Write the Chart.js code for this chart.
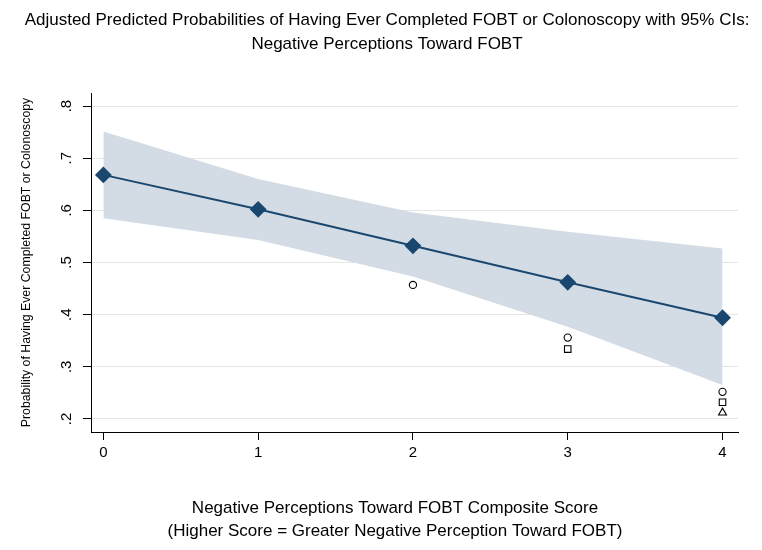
<!DOCTYPE html>
<html>
<head>
<meta charset="utf-8">
<script src="https://cdn.jsdelivr.net/npm/chart.js@4.4.1/dist/chart.umd.min.js"></script>
<style>
  html, body { margin: 0; padding: 0; background: #fff; }
  #wrap { width: 762px; height: 550px; }
</style>
</head>
<body>
<div id="wrap"><canvas id="chart" width="762" height="550"></canvas></div>
<script>
const scores = [0, 1, 2, 3, 4];
const predicted = [0.668, 0.602, 0.532, 0.462, 0.394];
const ciLower = [0.585, 0.543, 0.473, 0.377, 0.265];
const ciUpper = [0.751, 0.660, 0.596, 0.559, 0.527];
const circleVals = [null, null, 0.457, 0.356, 0.252];
const squareVals = [null, null, null, 0.334, 0.232];
const triangleVals = [null, null, null, null, 0.212];
const yTicks = [0.2, 0.3, 0.4, 0.5, 0.6, 0.7, 0.8];
const xTicks = [0, 1, 2, 3, 4];

const titleLines = [
  'Adjusted Predicted Probabilities of Having Ever Completed FOBT or Colonoscopy with 95% CIs:',
  'Negative Perceptions Toward FOBT'
];
const xTitleLines = [
  'Negative Perceptions Toward FOBT Composite Score',
  '(Higher Score = Greater Negative Perception Toward FOBT)'
];
const yTitle = 'Probability of Having Ever Completed FOBT or Colonoscopy';

const navy = '#1a476f';
const band = '#d3dce5';
const fontFamily = '"Liberation Sans", Arial, sans-serif';

function pts(vals) {
  return scores.map((x, i) => ({ x: x, y: vals[i] }));
}

function yLabel(v) {
  return v.toFixed(1).replace(/^0/, '');
}

// Stata style texts: rotated y tick labels, titles centred like the original
const stataText = {
  id: 'stataText',
  afterDraw(chart) {
    const ctx = chart.ctx;
    const y = chart.scales.y;
    ctx.save();
    ctx.fillStyle = '#000';
    ctx.textAlign = 'center';
    ctx.textBaseline = 'middle';

    ctx.font = '15px ' + fontFamily;
    yTicks.forEach(v => {
      ctx.save();
      ctx.translate(67, y.getPixelForValue(v));
      ctx.rotate(-Math.PI / 2);
      ctx.fillText(yLabel(v), 0, 0);
      ctx.restore();
    });

    ctx.font = '17px ' + fontFamily;
    ctx.fillText(titleLines[0], 387, 20);
    ctx.fillText(titleLines[1], 387, 44);

    ctx.fillText(xTitleLines[0], 395, 508);
    ctx.fillText(xTitleLines[1], 395, 531);
    ctx.restore();
  }
};

const markerBase = {
  showLine: false,
  pointBackgroundColor: '#fff',
  pointBorderColor: '#000',
  pointBorderWidth: 1.1,
  order: 1
};

new Chart(document.getElementById('chart'), {
  type: 'line',
  data: {
    datasets: [
      {
        label: 'Predicted',
        data: pts(predicted),
        borderColor: navy,
        borderWidth: 2,
        pointStyle: 'rectRot',
        pointRadius: 7,
        pointBackgroundColor: navy,
        pointBorderColor: navy,
        fill: false,
        order: 0
      },
      Object.assign({ label: 'circle', data: pts(circleVals), pointStyle: 'circle', pointRadius: 3.6 }, markerBase),
      Object.assign({ label: 'square', data: pts(squareVals), pointStyle: 'rect', pointRadius: 4.6 }, markerBase),
      Object.assign({ label: 'triangle', data: pts(triangleVals), pointStyle: 'triangle', pointRadius: 4.6 }, markerBase),
      {
        label: 'CI lower',
        data: pts(ciLower),
        borderWidth: 0,
        borderColor: 'rgba(0,0,0,0)',
        pointRadius: 0,
        fill: false,
        order: 5
      },
      {
        label: 'CI upper',
        data: pts(ciUpper),
        borderWidth: 0,
        borderColor: 'rgba(0,0,0,0)',
        backgroundColor: band,
        pointRadius: 0,
        fill: '-1',
        order: 4
      }
    ]
  },
  options: {
    responsive: false,
    animation: false,
    layout: { padding: { left: 0, right: 24, top: 93, bottom: 0 } },
    plugins: {
      legend: { display: false },
      tooltip: { enabled: false },
      title: { display: false }
    },
    scales: {
      x: {
        type: 'linear',
        min: -0.08,
        max: 4.1,
        afterBuildTicks: s => { s.ticks = xTicks.map(v => ({ value: v })); },
        afterFit: s => { s.height = 118; },
        grid: { drawOnChartArea: false, drawTicks: true, tickLength: 8, tickColor: '#000' },
        border: { color: '#000', width: 1 },
        ticks: {
          color: '#000',
          padding: 4,
          font: { family: fontFamily, size: 15 }
        },
        title: { display: false }
      },
      y: {
        type: 'linear',
        min: 0.175,
        max: 0.825,
        afterBuildTicks: s => { s.ticks = yTicks.map(v => ({ value: v })); },
        afterFit: s => { s.width = 91; },
        grid: { color: '#e6e6e6', lineWidth: 1, drawTicks: true, tickLength: 8, tickColor: '#000' },
        border: { color: '#000', width: 1 },
        ticks: { display: false },
        title: {
          display: true,
          text: yTitle,
          color: '#000',
          font: { family: fontFamily, size: 12.3, lineHeight: 1.2 },
          padding: { top: 19.5, bottom: 0 }
        }
      }
    }
  },
  plugins: [stataText]
});
</script>
</body>
</html>
